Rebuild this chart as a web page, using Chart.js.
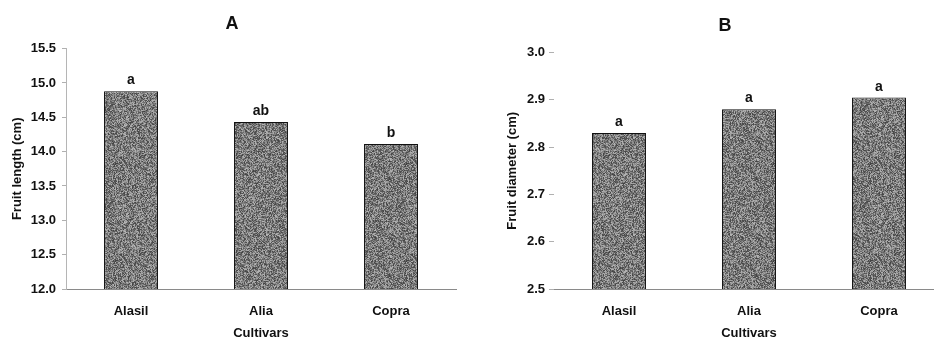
<!DOCTYPE html>
<html>
<head>
<meta charset="utf-8">
<title>Fruit length and diameter by cultivar</title>
<script src="https://cdn.jsdelivr.net/npm/chart.js@4.4.1/dist/chart.umd.min.js"></script>
<style>
  html, body { margin: 0; padding: 0; background: #fff; overflow: hidden; width: 934px; height: 343px; }
  #chartA { position: absolute; left: 0; top: 0; }
  #chartB { position: absolute; left: 464px; top: 0; }
</style>
</head>
<body>
<canvas id="chartA" width="464" height="343"></canvas>
<canvas id="chartB" width="522" height="343"></canvas>
<script>
// values
var cultivars = ["Alasil", "Alia", "Copra"];
var fruitLength = [14.88, 14.43, 14.11];
var lengthLetters = ["a", "ab", "b"];
var fruitDiameter = [2.83, 2.88, 2.905];
var diameterLetters = ["a", "a", "a"];
var lengthRange = [12.0, 15.5];
var diameterRange = [2.5, 3.0];

var FONT = "'Liberation Sans', Arial, Helvetica, sans-serif";
var INK = "#111";

// grainy grey fill like the scanned bars (fixed seed, styling only)
function grainPattern() {
  var n = 97;
  var c = document.createElement("canvas");
  c.width = n; c.height = n;
  var g = c.getContext("2d");
  var img = g.createImageData(n, n);
  var s = 20240611;
  for (var i = 0; i < img.data.length; i += 4) {
    s = (s * 1103515245 + 12345) & 0x7fffffff;
    var v = 66 + ((s >>> 16) % 116);
    img.data[i] = v; img.data[i + 1] = v; img.data[i + 2] = v; img.data[i + 3] = 255;
  }
  g.putImageData(img, 0, 0);
  return g.createPattern(c, "repeat");
}
var grain = grainPattern();

// significance letters above each bar
var letterPlugin = {
  id: "letters",
  afterDatasetsDraw: function(chart, args, opts) {
    var ctx = chart.ctx;
    var meta = chart.getDatasetMeta(0);
    ctx.save();
    ctx.font = "bold 14px " + FONT;
    ctx.fillStyle = INK;
    ctx.textAlign = "center";
    ctx.textBaseline = "alphabetic";
    meta.data.forEach(function(bar, i) {
      ctx.fillText(opts.letters[i], bar.x, bar.y - 7);
    });
    ctx.restore();
  }
};

function makeChart(id, cfg) {
  var font = { family: FONT, size: 13, weight: "bold" };
  return new Chart(document.getElementById(id).getContext("2d"), {
    type: "bar",
    data: {
      labels: cultivars,
      datasets: [{
        data: cfg.values,
        backgroundColor: grain,
        borderColor: "#111",
        borderWidth: 1,
        categoryPercentage: 1,
        barPercentage: 0.415
      }]
    },
    plugins: [letterPlugin],
    options: {
      responsive: false,
      animation: false,
      layout: { padding: 0 },
      plugins: {
        legend: { display: false },
        tooltip: { enabled: false },
        letters: { letters: cfg.letters },
        title: {
          display: true,
          text: cfg.title,
          color: INK,
          font: { family: FONT, size: 18, weight: "bold" },
          padding: { top: cfg.titleTop, bottom: cfg.titleBottom }
        }
      },
      scales: {
        x: {
          grid: { display: false, drawTicks: false },
          border: { display: true, color: "#8a8a8a", width: 1 },
          ticks: { color: INK, font: font, padding: 15 },
          title: { display: true, text: "Cultivars", color: INK, font: font, padding: { top: 0, bottom: 2 } },
          afterFit: function(s) { s.height = 54; }
        },
        y: {
          min: cfg.range[0],
          max: cfg.range[1],
          ticks: {
            stepSize: cfg.step,
            color: INK,
            font: font,
            padding: cfg.tickPad,
            callback: function(v) { return Number(v).toFixed(1); }
          },
          grid: { drawOnChartArea: false, drawTicks: true, tickLength: cfg.tickLen, color: "#b0b0b0" },
          border: cfg.yBorder,
          title: { display: true, text: cfg.yTitle, color: INK, font: font, padding: { top: cfg.yTitlePad, bottom: 0 } },
          afterFit: function(s) { s.width = cfg.yWidth; }
        },
        // empty right-hand strip so the panel title stays centred on the whole panel
        spacer: {
          type: "linear",
          position: "right",
          grid: { display: false },
          border: { display: false },
          ticks: { display: false },
          afterFit: function(s) { s.width = cfg.rightPad; }
        }
      }
    }
  });
}

var chartA = makeChart("chartA", {
  title: "A", values: fruitLength, letters: lengthLetters, range: lengthRange, step: 0.5,
  yTitle: "Fruit length (cm)", yWidth: 66, yTitlePad: 10, tickPad: 6, tickLen: 4,
  yBorder: { display: true, color: "#b5b5b5", dash: [2, 3], width: 1 },
  rightPad: 8, titleTop: 13, titleBottom: 14
});

var chartB = makeChart("chartB", {
  title: "B", values: fruitDiameter, letters: diameterLetters, range: diameterRange, step: 0.1,
  yTitle: "Fruit diameter (cm)", yWidth: 90, yTitlePad: 41, tickPad: 4, tickLen: 5,
  yBorder: { display: false },
  rightPad: 42, titleTop: 15, titleBottom: 16
});
</script>
</body>
</html>
